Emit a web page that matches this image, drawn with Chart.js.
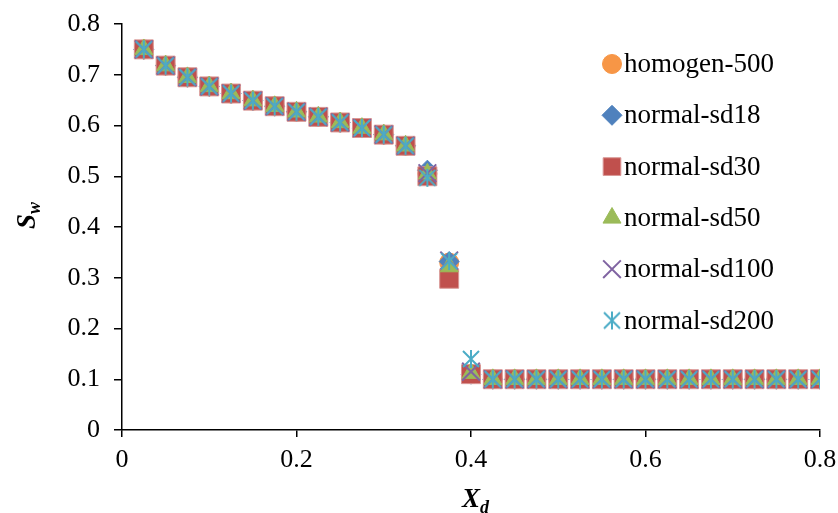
<!DOCTYPE html>
<html>
<head>
<meta charset="utf-8">
<script src="https://cdn.jsdelivr.net/npm/chart.js@4/dist/chart.umd.min.js"></script>
<style>
  html, body { margin: 0; padding: 0; background: #fff; }
  #wrap { width: 838px; height: 513px; }
</style>
</head>
<body>
<div id="wrap"><canvas id="container" width="838" height="513"></canvas></div>
<script>
const X_D = [0.025, 0.05, 0.075, 0.1, 0.125, 0.15, 0.175, 0.2, 0.225, 0.25, 0.275, 0.3,
  0.325, 0.35, 0.375, 0.4, 0.425, 0.45, 0.475, 0.5, 0.525, 0.55, 0.575, 0.6, 0.625,
  0.65, 0.675, 0.7, 0.725, 0.75, 0.775, 0.8];

// the curves only differ around the front (x = 0.35 .. 0.4)
const HOMOGEN_500 = [0.75, 0.718, 0.695, 0.677, 0.663, 0.649, 0.638, 0.627, 0.617, 0.606, 0.595, 0.582,
  0.56, 0.505, 0.33, 0.11, 0.1, 0.1, 0.1, 0.1, 0.1, 0.1, 0.1, 0.1, 0.1, 0.1, 0.1, 0.1, 0.1, 0.1, 0.1, 0.1];
const NORMAL_SD18 = [0.75, 0.718, 0.695, 0.677, 0.663, 0.649, 0.638, 0.627, 0.617, 0.606, 0.595, 0.582,
  0.56, 0.512, 0.332, 0.11, 0.1, 0.1, 0.1, 0.1, 0.1, 0.1, 0.1, 0.1, 0.1, 0.1, 0.1, 0.1, 0.1, 0.1, 0.1, 0.1];
const NORMAL_SD30 = [0.75, 0.718, 0.695, 0.677, 0.663, 0.649, 0.638, 0.627, 0.617, 0.606, 0.595, 0.582,
  0.56, 0.5, 0.298, 0.11, 0.1, 0.1, 0.1, 0.1, 0.1, 0.1, 0.1, 0.1, 0.1, 0.1, 0.1, 0.1, 0.1, 0.1, 0.1, 0.1];
const NORMAL_SD50 = [0.75, 0.718, 0.695, 0.677, 0.663, 0.649, 0.638, 0.627, 0.617, 0.606, 0.595, 0.582,
  0.56, 0.505, 0.322, 0.112, 0.1, 0.1, 0.1, 0.1, 0.1, 0.1, 0.1, 0.1, 0.1, 0.1, 0.1, 0.1, 0.1, 0.1, 0.1, 0.1];
const NORMAL_SD100 = [0.75, 0.718, 0.695, 0.677, 0.663, 0.649, 0.638, 0.627, 0.617, 0.606, 0.595, 0.582,
  0.56, 0.506, 0.334, 0.115, 0.1, 0.1, 0.1, 0.1, 0.1, 0.1, 0.1, 0.1, 0.1, 0.1, 0.1, 0.1, 0.1, 0.1, 0.1, 0.1];
const NORMAL_SD200 = [0.75, 0.718, 0.695, 0.677, 0.663, 0.649, 0.638, 0.627, 0.617, 0.606, 0.595, 0.582,
  0.56, 0.497, 0.333, 0.14, 0.1, 0.1, 0.1, 0.1, 0.1, 0.1, 0.1, 0.1, 0.1, 0.1, 0.1, 0.1, 0.1, 0.1, 0.1, 0.1];

const SERIES_NAMES = ["homogen-500", "normal-sd18", "normal-sd30", "normal-sd50", "normal-sd100", "normal-sd200"];
const SERIES_VALUES = [HOMOGEN_500, NORMAL_SD18, NORMAL_SD30, NORMAL_SD50, NORMAL_SD100, NORMAL_SD200];
const X_TICKS = [0, 0.2, 0.4, 0.6, 0.8];
const Y_TICKS = [0, 0.1, 0.2, 0.3, 0.4, 0.5, 0.6, 0.7, 0.8];

const FONT = "'Liberation Serif', 'Times New Roman', serif";

// excel style star: vertical bar plus an x
const starMarker = (() => {
  const c = document.createElement("canvas");
  c.width = 20;
  c.height = 20;
  const g = c.getContext("2d");
  g.strokeStyle = "#4BACC6";
  g.lineWidth = 2;
  g.beginPath();
  g.moveTo(10, 1); g.lineTo(10, 19);
  g.moveTo(2, 2); g.lineTo(18, 18);
  g.moveTo(18, 2); g.lineTo(2, 18);
  g.stroke();
  return c;
})();

const styles = [
  { color: "#F79646", border: "#F79646", pointStyle: "circle", radius: 9.5, bw: 1 },
  { color: "#4F81BD", border: "#4F81BD", pointStyle: "rectRot", radius: 10, bw: 1 },
  { color: "#C0504D", border: "#D99795", pointStyle: "rect", radius: 13.4, bw: 1 },
  { color: "#9BBB59", border: "#9BBB59", pointStyle: "triangle", radius: 10.4, bw: 1 },
  { color: "#8064A2", border: "#8064A2", pointStyle: "crossRot", radius: 12.5, bw: 2 },
  { color: "#4BACC6", border: "#4BACC6", pointStyle: starMarker, radius: 10, bw: 2 },
];

const datasets = SERIES_NAMES.map((name, i) => ({
  label: name,
  data: X_D.map((x, j) => ({ x: x, y: SERIES_VALUES[i][j] })),
  backgroundColor: styles[i].color,
  borderColor: styles[i].border,
  pointStyle: styles[i].pointStyle,
  pointRadius: styles[i].radius,
  pointHoverRadius: styles[i].radius,
  pointBorderWidth: styles[i].bw,
  showLine: false,
  order: SERIES_NAMES.length - i, // last series on top
}));

const legendAndTitles = {
  id: "legendAndTitles",
  afterDraw(chart) {
    const ctx = chart.ctx;
    ctx.save();
    // legend inside the plot, top right
    ctx.font = "27px " + FONT;
    ctx.textBaseline = "middle";
    ctx.textAlign = "left";
    SERIES_NAMES.forEach((name, i) => {
      const y = 64 + i * 51.3;
      const s = styles[i];
      ctx.fillStyle = s.color;
      ctx.strokeStyle = s.border;
      ctx.lineWidth = s.bw;
      const r = s.pointStyle === "rect" ? 12.5 : s.radius;
      Chart.helpers.drawPoint(ctx, { pointStyle: s.pointStyle, radius: r, borderWidth: s.bw, rotation: 0 }, 612, y);
      ctx.fillStyle = "#000";
      ctx.fillText(name, 624, y + 1);
    });

    // axis titles with subscripts
    ctx.fillStyle = "#000";
    ctx.textBaseline = "alphabetic";
    ctx.font = "bold italic 27px " + FONT;
    ctx.fillText("X", 462, 507);
    const xw = ctx.measureText("X").width;
    ctx.font = "bold italic 18px " + FONT;
    ctx.fillText("d", 462 + xw, 513);

    ctx.translate(35, 229);
    ctx.rotate(-Math.PI / 2);
    ctx.font = "bold italic 27px " + FONT;
    ctx.fillText("S", 0, 0);
    const sw = ctx.measureText("S").width;
    ctx.font = "bold italic 18px " + FONT;
    ctx.fillText("w", sw, 5);
    ctx.restore();
  },
};

new Chart(document.getElementById("container"), {
  type: "scatter",
  data: { datasets: datasets },
  options: {
    responsive: false,
    animation: false,
    layout: { padding: { top: 24, right: 18, left: 0, bottom: 0 } },
    plugins: {
      legend: { display: false },
      tooltip: { enabled: false },
    },
    scales: {
      x: {
        type: "linear",
        min: 0,
        max: 0.8,
        afterBuildTicks: (scale) => { scale.ticks = X_TICKS.map((v) => ({ value: v })); },
        afterFit: (scale) => {
          scale.height = 83;
          scale.paddingLeft = 0;
          scale.paddingRight = 0;
        },
        ticks: {
          color: "#000",
          font: { family: FONT, size: 26 },
          padding: 8,
          maxRotation: 0,
          callback: (v) => String(+v.toFixed(1)),
        },
        grid: { display: true, drawOnChartArea: false, drawTicks: true, tickLength: 7, color: "#000", lineWidth: 1.5 },
        border: { display: true, color: "#000", width: 1.5 },
      },
      y: {
        type: "linear",
        min: 0,
        max: 0.8,
        afterBuildTicks: (scale) => { scale.ticks = Y_TICKS.map((v) => ({ value: v })); },
        afterFit: (scale) => {
          scale.width = 122;
          scale.paddingTop = 0;
          scale.paddingBottom = 0;
        },
        ticks: {
          color: "#000",
          font: { family: FONT, size: 26 },
          padding: 14,
          callback: (v) => String(+v.toFixed(1)),
        },
        grid: { display: true, drawOnChartArea: false, drawTicks: true, tickLength: 8, color: "#000", lineWidth: 1.5 },
        border: { display: true, color: "#000", width: 1.5 },
      },
    },
  },
  plugins: [legendAndTitles],
});
</script>
</body>
</html>
